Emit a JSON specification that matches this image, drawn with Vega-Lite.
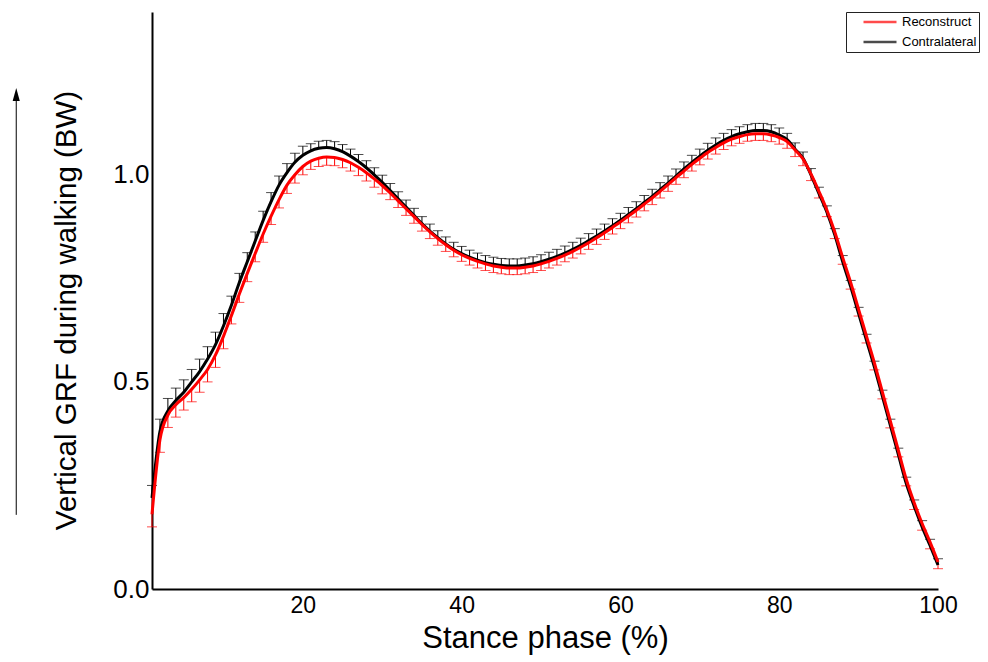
{
  "$schema": "https://vega.github.io/schema/vega-lite/v6.json",
  "width": 786,
  "height": 577,
  "autosize": {"type": "none"},
  "padding": {"left": 152, "top": 12, "right": 50, "bottom": 73},
  "background": "white",
  "config": {"view": {"stroke": null}, "font": "Liberation Sans"},
  "datasets": {
    "arrow": [{"x": -16.1, "y": 0.179, "y2": 1.18, "tip": 1.194}],
    "curves": [
      {"x":1,"s":"Contralateral","v":0.22,"e":0.25},{"x":2,"s":"Contralateral","v":0.38,"e":0.41},{"x":3,"s":"Contralateral","v":0.43,"e":0.46},{"x":4,"s":"Contralateral","v":0.455,"e":0.485},{"x":5,"s":"Contralateral","v":0.475,"e":0.505},{"x":6,"s":"Contralateral","v":0.5,"e":0.53},{"x":7,"s":"Contralateral","v":0.525,"e":0.555},{"x":8,"s":"Contralateral","v":0.555,"e":0.585},{"x":9,"s":"Contralateral","v":0.59,"e":0.62},{"x":10,"s":"Contralateral","v":0.635,"e":0.665},
      {"x":11,"s":"Contralateral","v":0.685,"e":0.707},{"x":12,"s":"Contralateral","v":0.74,"e":0.762},{"x":13,"s":"Contralateral","v":0.79,"e":0.812},{"x":14,"s":"Contralateral","v":0.84,"e":0.862},{"x":15,"s":"Contralateral","v":0.89,"e":0.912},{"x":16,"s":"Contralateral","v":0.935,"e":0.957},{"x":17,"s":"Contralateral","v":0.975,"e":0.997},{"x":18,"s":"Contralateral","v":1.005,"e":1.027},{"x":19,"s":"Contralateral","v":1.03,"e":1.052},{"x":20,"s":"Contralateral","v":1.047,"e":1.069},
      {"x":21,"s":"Contralateral","v":1.058,"e":1.075},{"x":22,"s":"Contralateral","v":1.064,"e":1.081},{"x":23,"s":"Contralateral","v":1.066,"e":1.083},{"x":24,"s":"Contralateral","v":1.063,"e":1.08},{"x":25,"s":"Contralateral","v":1.056,"e":1.073},{"x":26,"s":"Contralateral","v":1.045,"e":1.062},{"x":27,"s":"Contralateral","v":1.032,"e":1.049},{"x":28,"s":"Contralateral","v":1.017,"e":1.034},{"x":29,"s":"Contralateral","v":1.0,"e":1.017},{"x":30,"s":"Contralateral","v":0.982,"e":0.999},
      {"x":31,"s":"Contralateral","v":0.962,"e":0.979},{"x":32,"s":"Contralateral","v":0.942,"e":0.959},{"x":33,"s":"Contralateral","v":0.922,"e":0.939},{"x":34,"s":"Contralateral","v":0.902,"e":0.919},{"x":35,"s":"Contralateral","v":0.882,"e":0.899},{"x":36,"s":"Contralateral","v":0.864,"e":0.881},{"x":37,"s":"Contralateral","v":0.848,"e":0.865},{"x":38,"s":"Contralateral","v":0.833,"e":0.85},{"x":39,"s":"Contralateral","v":0.82,"e":0.837},{"x":40,"s":"Contralateral","v":0.81,"e":0.827},
      {"x":41,"s":"Contralateral","v":0.801,"e":0.818},{"x":42,"s":"Contralateral","v":0.794,"e":0.811},{"x":43,"s":"Contralateral","v":0.788,"e":0.805},{"x":44,"s":"Contralateral","v":0.784,"e":0.801},{"x":45,"s":"Contralateral","v":0.781,"e":0.798},{"x":46,"s":"Contralateral","v":0.78,"e":0.797},{"x":47,"s":"Contralateral","v":0.78,"e":0.797},{"x":48,"s":"Contralateral","v":0.782,"e":0.799},{"x":49,"s":"Contralateral","v":0.785,"e":0.802},{"x":50,"s":"Contralateral","v":0.79,"e":0.807},
      {"x":51,"s":"Contralateral","v":0.796,"e":0.813},{"x":52,"s":"Contralateral","v":0.803,"e":0.82},{"x":53,"s":"Contralateral","v":0.811,"e":0.828},{"x":54,"s":"Contralateral","v":0.82,"e":0.837},{"x":55,"s":"Contralateral","v":0.83,"e":0.847},{"x":56,"s":"Contralateral","v":0.841,"e":0.858},{"x":57,"s":"Contralateral","v":0.852,"e":0.869},{"x":58,"s":"Contralateral","v":0.864,"e":0.881},{"x":59,"s":"Contralateral","v":0.877,"e":0.894},{"x":60,"s":"Contralateral","v":0.89,"e":0.907},
      {"x":61,"s":"Contralateral","v":0.904,"e":0.921},{"x":62,"s":"Contralateral","v":0.918,"e":0.935},{"x":63,"s":"Contralateral","v":0.933,"e":0.95},{"x":64,"s":"Contralateral","v":0.948,"e":0.965},{"x":65,"s":"Contralateral","v":0.964,"e":0.981},{"x":66,"s":"Contralateral","v":0.98,"e":0.997},{"x":67,"s":"Contralateral","v":0.997,"e":1.014},{"x":68,"s":"Contralateral","v":1.014,"e":1.031},{"x":69,"s":"Contralateral","v":1.03,"e":1.047},{"x":70,"s":"Contralateral","v":1.045,"e":1.062},
      {"x":71,"s":"Contralateral","v":1.059,"e":1.076},{"x":72,"s":"Contralateral","v":1.072,"e":1.089},{"x":73,"s":"Contralateral","v":1.083,"e":1.1},{"x":74,"s":"Contralateral","v":1.092,"e":1.109},{"x":75,"s":"Contralateral","v":1.099,"e":1.116},{"x":76,"s":"Contralateral","v":1.104,"e":1.121},{"x":77,"s":"Contralateral","v":1.107,"e":1.124},{"x":78,"s":"Contralateral","v":1.107,"e":1.124},{"x":79,"s":"Contralateral","v":1.104,"e":1.121},{"x":80,"s":"Contralateral","v":1.096,"e":1.113},
      {"x":81,"s":"Contralateral","v":1.085,"e":1.1},{"x":82,"s":"Contralateral","v":1.062,"e":1.077},{"x":83,"s":"Contralateral","v":1.04,"e":1.055},{"x":84,"s":"Contralateral","v":1.0,"e":1.015},{"x":85,"s":"Contralateral","v":0.955,"e":0.97},{"x":86,"s":"Contralateral","v":0.91,"e":0.925},{"x":87,"s":"Contralateral","v":0.855,"e":0.87},{"x":88,"s":"Contralateral","v":0.79,"e":0.805},{"x":89,"s":"Contralateral","v":0.73,"e":0.745},{"x":90,"s":"Contralateral","v":0.665,"e":0.68},
      {"x":91,"s":"Contralateral","v":0.6,"e":0.615},{"x":92,"s":"Contralateral","v":0.535,"e":0.55},{"x":93,"s":"Contralateral","v":0.465,"e":0.48},{"x":94,"s":"Contralateral","v":0.395,"e":0.41},{"x":95,"s":"Contralateral","v":0.325,"e":0.34},{"x":96,"s":"Contralateral","v":0.255,"e":0.27},{"x":97,"s":"Contralateral","v":0.2,"e":0.215},{"x":98,"s":"Contralateral","v":0.15,"e":0.165},{"x":99,"s":"Contralateral","v":0.105,"e":0.12},{"x":100,"s":"Contralateral","v":0.058,"e":0.073},
      {"x":1,"s":"Reconstruct","v":0.18,"e":0.15},{"x":2,"s":"Reconstruct","v":0.36,"e":0.33},{"x":3,"s":"Reconstruct","v":0.42,"e":0.39},{"x":4,"s":"Reconstruct","v":0.445,"e":0.415},{"x":5,"s":"Reconstruct","v":0.462,"e":0.432},{"x":6,"s":"Reconstruct","v":0.482,"e":0.452},{"x":7,"s":"Reconstruct","v":0.505,"e":0.475},{"x":8,"s":"Reconstruct","v":0.53,"e":0.5},{"x":9,"s":"Reconstruct","v":0.565,"e":0.535},{"x":10,"s":"Reconstruct","v":0.61,"e":0.58},
      {"x":11,"s":"Reconstruct","v":0.66,"e":0.64},{"x":12,"s":"Reconstruct","v":0.712,"e":0.692},{"x":13,"s":"Reconstruct","v":0.762,"e":0.742},{"x":14,"s":"Reconstruct","v":0.81,"e":0.79},{"x":15,"s":"Reconstruct","v":0.857,"e":0.837},{"x":16,"s":"Reconstruct","v":0.9,"e":0.88},{"x":17,"s":"Reconstruct","v":0.94,"e":0.92},{"x":18,"s":"Reconstruct","v":0.975,"e":0.955},{"x":19,"s":"Reconstruct","v":1.0,"e":0.98},{"x":20,"s":"Reconstruct","v":1.02,"e":1.0},
      {"x":21,"s":"Reconstruct","v":1.033,"e":1.013},{"x":22,"s":"Reconstruct","v":1.04,"e":1.02},{"x":23,"s":"Reconstruct","v":1.043,"e":1.023},{"x":24,"s":"Reconstruct","v":1.042,"e":1.022},{"x":25,"s":"Reconstruct","v":1.037,"e":1.017},{"x":26,"s":"Reconstruct","v":1.029,"e":1.009},{"x":27,"s":"Reconstruct","v":1.018,"e":0.998},{"x":28,"s":"Reconstruct","v":1.005,"e":0.985},{"x":29,"s":"Reconstruct","v":0.99,"e":0.97},{"x":30,"s":"Reconstruct","v":0.974,"e":0.954},
      {"x":31,"s":"Reconstruct","v":0.956,"e":0.94},{"x":32,"s":"Reconstruct","v":0.937,"e":0.921},{"x":33,"s":"Reconstruct","v":0.918,"e":0.902},{"x":34,"s":"Reconstruct","v":0.899,"e":0.883},{"x":35,"s":"Reconstruct","v":0.88,"e":0.864},{"x":36,"s":"Reconstruct","v":0.862,"e":0.846},{"x":37,"s":"Reconstruct","v":0.846,"e":0.83},{"x":38,"s":"Reconstruct","v":0.831,"e":0.815},{"x":39,"s":"Reconstruct","v":0.818,"e":0.802},{"x":40,"s":"Reconstruct","v":0.807,"e":0.791},
      {"x":41,"s":"Reconstruct","v":0.798,"e":0.782},{"x":42,"s":"Reconstruct","v":0.791,"e":0.775},{"x":43,"s":"Reconstruct","v":0.785,"e":0.769},{"x":44,"s":"Reconstruct","v":0.78,"e":0.764},{"x":45,"s":"Reconstruct","v":0.777,"e":0.761},{"x":46,"s":"Reconstruct","v":0.775,"e":0.759},{"x":47,"s":"Reconstruct","v":0.775,"e":0.759},{"x":48,"s":"Reconstruct","v":0.777,"e":0.761},{"x":49,"s":"Reconstruct","v":0.78,"e":0.764},{"x":50,"s":"Reconstruct","v":0.785,"e":0.769},
      {"x":51,"s":"Reconstruct","v":0.791,"e":0.775},{"x":52,"s":"Reconstruct","v":0.798,"e":0.782},{"x":53,"s":"Reconstruct","v":0.806,"e":0.79},{"x":54,"s":"Reconstruct","v":0.815,"e":0.799},{"x":55,"s":"Reconstruct","v":0.825,"e":0.809},{"x":56,"s":"Reconstruct","v":0.836,"e":0.82},{"x":57,"s":"Reconstruct","v":0.848,"e":0.832},{"x":58,"s":"Reconstruct","v":0.86,"e":0.844},{"x":59,"s":"Reconstruct","v":0.873,"e":0.857},{"x":60,"s":"Reconstruct","v":0.886,"e":0.87},
      {"x":61,"s":"Reconstruct","v":0.9,"e":0.884},{"x":62,"s":"Reconstruct","v":0.914,"e":0.898},{"x":63,"s":"Reconstruct","v":0.929,"e":0.913},{"x":64,"s":"Reconstruct","v":0.944,"e":0.928},{"x":65,"s":"Reconstruct","v":0.96,"e":0.944},{"x":66,"s":"Reconstruct","v":0.976,"e":0.96},{"x":67,"s":"Reconstruct","v":0.993,"e":0.977},{"x":68,"s":"Reconstruct","v":1.009,"e":0.993},{"x":69,"s":"Reconstruct","v":1.025,"e":1.009},{"x":70,"s":"Reconstruct","v":1.04,"e":1.024},
      {"x":71,"s":"Reconstruct","v":1.054,"e":1.038},{"x":72,"s":"Reconstruct","v":1.066,"e":1.05},{"x":73,"s":"Reconstruct","v":1.077,"e":1.061},{"x":74,"s":"Reconstruct","v":1.086,"e":1.07},{"x":75,"s":"Reconstruct","v":1.092,"e":1.076},{"x":76,"s":"Reconstruct","v":1.097,"e":1.081},{"x":77,"s":"Reconstruct","v":1.099,"e":1.083},{"x":78,"s":"Reconstruct","v":1.099,"e":1.083},{"x":79,"s":"Reconstruct","v":1.096,"e":1.08},{"x":80,"s":"Reconstruct","v":1.09,"e":1.074},
      {"x":81,"s":"Reconstruct","v":1.08,"e":1.064},{"x":82,"s":"Reconstruct","v":1.06,"e":1.044},{"x":83,"s":"Reconstruct","v":1.038,"e":1.022},{"x":84,"s":"Reconstruct","v":1.002,"e":0.986},{"x":85,"s":"Reconstruct","v":0.96,"e":0.944},{"x":86,"s":"Reconstruct","v":0.915,"e":0.899},{"x":87,"s":"Reconstruct","v":0.862,"e":0.846},{"x":88,"s":"Reconstruct","v":0.8,"e":0.784},{"x":89,"s":"Reconstruct","v":0.74,"e":0.724},{"x":90,"s":"Reconstruct","v":0.675,"e":0.659},
      {"x":91,"s":"Reconstruct","v":0.61,"e":0.594},{"x":92,"s":"Reconstruct","v":0.545,"e":0.529},{"x":93,"s":"Reconstruct","v":0.475,"e":0.459},{"x":94,"s":"Reconstruct","v":0.405,"e":0.389},{"x":95,"s":"Reconstruct","v":0.335,"e":0.319},{"x":96,"s":"Reconstruct","v":0.265,"e":0.249},{"x":97,"s":"Reconstruct","v":0.208,"e":0.192},{"x":98,"s":"Reconstruct","v":0.158,"e":0.142},{"x":99,"s":"Reconstruct","v":0.113,"e":0.097},{"x":100,"s":"Reconstruct","v":0.065,"e":0.049}
    ]
  },
  "layer": [
    {
      "data": {"name": "curves"},
      "mark": {"type": "rule", "strokeWidth": 1, "clip": false},
      "encoding": {
        "x": {"field": "x", "type": "quantitative",
              "scale": {"domain": [1, 100], "nice": false, "zero": false},
              "axis": {"values": [20, 40, 60, 80, 100], "title": "Stance phase (%)", "grid": false, "ticks": false,
                       "domainColor": "black", "domainWidth": 2, "labelColor": "black", "labelFont": "Liberation Sans", "labelFontSize": 23,
                       "labelPadding": 5, "labelFlush": false, "titleFont": "Liberation Sans", "titleFontSize": 31, "titleFontWeight": "normal",
                       "titleColor": "black", "titlePadding": 6}},
        "y": {"field": "v", "type": "quantitative",
              "scale": {"domain": [0, 1.393], "nice": false},
              "axis": {"values": [0, 0.5, 1.0], "format": ".1f", "title": "Vertical GRF during walking (BW)", "grid": false, "ticks": false,
                       "domainColor": "black", "domainWidth": 2, "labelColor": "black", "labelFont": "Liberation Sans", "labelFontSize": 26,
                       "labelPadding": 3, "labelFlush": false, "titleFont": "Liberation Sans", "titleFontSize": 29.5, "titleFontWeight": "normal",
                       "titleColor": "black", "titlePadding": 31, "titleY": 298}},
        "y2": {"field": "e"},
        "color": {"field": "s", "type": "nominal", "scale": {"domain": ["Reconstruct", "Contralateral"], "range": ["#ff0000", "#000000"]},
                  "legend": {"orient": "none", "legendX": 694, "legendY": 0, "title": null, "strokeColor": "#222", "fillColor": "white",
                             "padding": 2, "symbolType": "stroke", "symbolStrokeWidth": 2.5, "symbolSize": 1089, "symbolOffset": 14,
                             "symbolOpacity": 1, "clipHeight": 16,
                             "labelFont": "Liberation Sans", "labelFontSize": 13, "labelColor": "black", "rowPadding": 4, "labelOffset": 4}}
      }
    },
    {
      "data": {"name": "curves"},
      "mark": {"type": "tick", "orient": "horizontal", "thickness": 1, "size": 10, "clip": false},
      "encoding": {
        "x": {"field": "x", "type": "quantitative"},
        "y": {"field": "e", "type": "quantitative"},
        "color": {"field": "s", "type": "nominal"}
      }
    },
    {
      "data": {"name": "curves"},
      "mark": {"type": "line", "strokeWidth": 3, "interpolate": "monotone"},
      "encoding": {
        "x": {"field": "x", "type": "quantitative"},
        "y": {"field": "v", "type": "quantitative"},
        "color": {"field": "s", "type": "nominal"},
        "order": {"field": "x", "type": "quantitative"}
      }
    },
    {
      "data": {"name": "arrow"},
      "mark": {"type": "rule", "strokeWidth": 1, "color": "black", "clip": false},
      "encoding": {
        "x": {"field": "x", "type": "quantitative"},
        "y": {"field": "y", "type": "quantitative"},
        "y2": {"field": "y2"}
      }
    },
    {
      "data": {"name": "arrow"},
      "mark": {"type": "point", "shape": "M0,-1L0.55,1L-0.55,1Z", "filled": true, "size": 169, "color": "black", "opacity": 1, "clip": false},
      "encoding": {
        "x": {"field": "x", "type": "quantitative"},
        "y": {"field": "tip", "type": "quantitative"}
      }
    }
  ]
}
